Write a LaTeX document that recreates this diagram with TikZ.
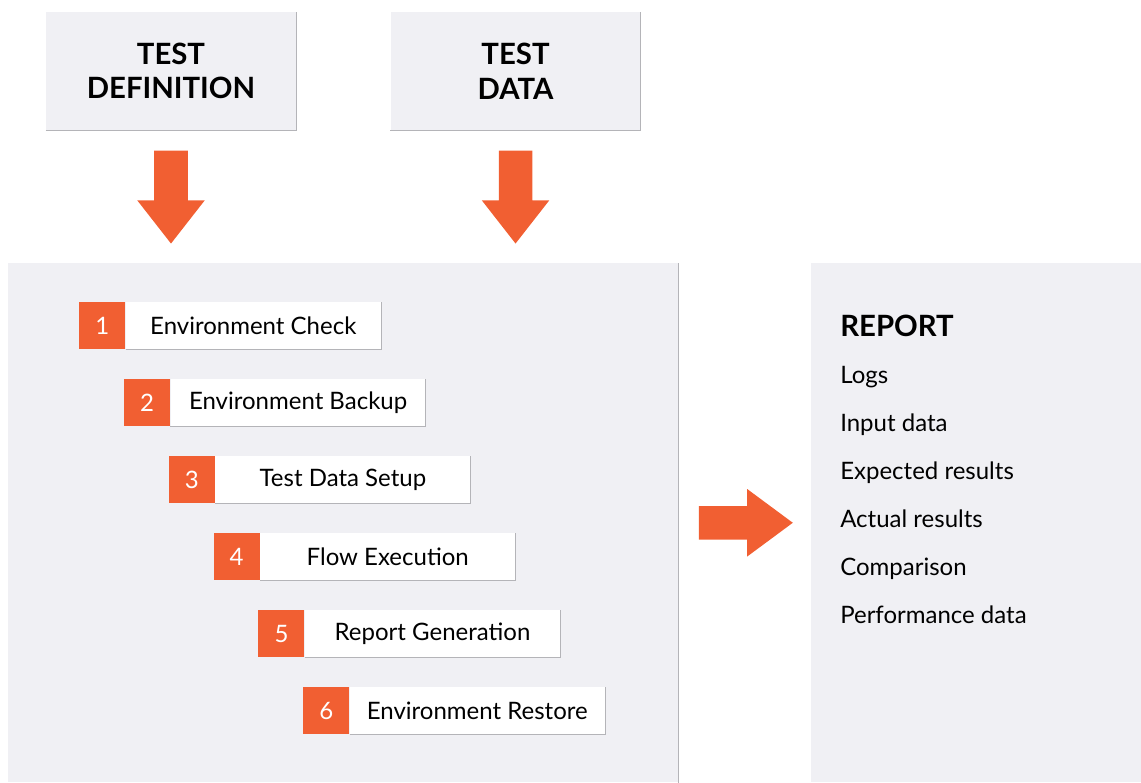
\documentclass[tikz,border=0pt]{standalone}
\usepackage{fontspec}
\setmainfont{Lato}
\usetikzlibrary{shapes,arrows,positioning}
\definecolor{flame}{HTML}{F15F32}
\definecolor{panelgrey}{HTML}{F0F0F4}
\definecolor{rimgrey}{HTML}{B4B4B8}

\begin{document}
\begin{tikzpicture}[
    x=0.75pt, y=-0.75pt,
    input/.style={rectangle, fill=panelgrey, minimum width=187.5pt, minimum height=88.5pt, align=center, font=\fontsize{22}{26}\selectfont\bfseries},
    panel/.style={rectangle, fill=panelgrey, minimum height=389.25pt, inner sep=0pt},
    num/.style={rectangle, fill=flame, text=white, minimum width=34.5pt, minimum height=35.25pt, inner sep=0pt, anchor=north west, font=\fontsize{18}{21}\selectfont},
    stepbox/.style={rectangle, fill=white, minimum width=191.25pt, minimum height=35.25pt, inner sep=0pt, font=\fontsize{18}{21}\selectfont},
    bigarrow/.style={single arrow, fill=flame, inner sep=12.375pt, single arrow head extend=12.75pt, single arrow tip angle=76, minimum height=69.75pt},
    item/.style={anchor=base west, inner sep=0pt, font=\fontsize{18}{21}\selectfont},
    rim/.style={draw=rimgrey, line width=0.6pt}
]
\useasboundingbox (0,0) rectangle (1141,782);

% Inputs
\node[input] (defin) at (171,71) {TEST\\DEFINITION};
\node[input, right=70.5pt of defin] (tdata) {TEST\\DATA};
\draw[rim] (defin.south west) -- (defin.south east) -- (defin.north east);
\draw[rim] (tdata.south west) -- (tdata.south east) -- (tdata.north east);

% Down arrows
\node[bigarrow, shape border rotate=270, below=15pt of defin, anchor=tail] (arrdefin) {};
\node[bigarrow, shape border rotate=270, below=15pt of tdata, anchor=tail] (arrdata) {};

% Panels
\node[panel, minimum width=502.5pt, anchor=north west] (main) at (8,263) {};
\draw[rim] (main.north east) -- (main.south east);
\node[panel, minimum width=248.25pt, right=99pt of main] (report) {};

% Result arrow
\node[bigarrow, minimum height=70.5pt, single arrow tip angle=73, right=15pt of main, anchor=tail] (arrout) {};

% Steps
\foreach \lbl [count=\i] in {Environment Check, Environment Backup, Test Data Setup, Flow Execution, Report Generation, Environment Restore} {
    \node[num] (num\i) at ({79+44.8*(\i-1)}, {302+77*(\i-1)}) {\i};
    \node[stepbox, right=0pt of num\i] (step\i) {\lbl};
    \draw[rim] (step\i.south west) -- (step\i.south east) -- (step\i.north east);
}

% Report contents
\node[item, font=\fontsize{22}{24}\selectfont\bfseries] (rephead) at (840,336) {REPORT};
\foreach \txt [count=\i] in {Logs, Input data, Expected results, Actual results, Comparison, Performance data} {
    \node[item] (rep\i) at (840, {383+48*(\i-1)}) {\txt};
}

\end{tikzpicture}
\end{document}
